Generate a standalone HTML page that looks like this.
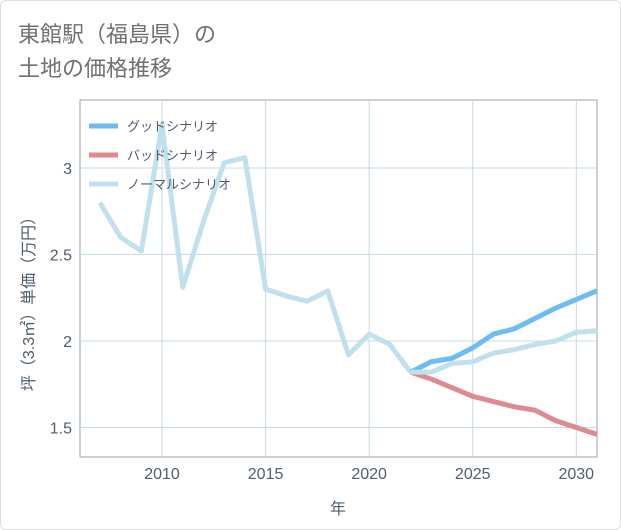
<!DOCTYPE html>
<html><head><meta charset="utf-8"><style>
body{margin:0;background:#fff;font-family:"Liberation Sans","Noto Sans CJK JP",sans-serif;}
#wrap{position:relative;width:619px;height:528px;border:1px solid #ddd;border-radius:6px;overflow:hidden;}
.title{position:absolute;left:17px;top:17px;font-size:22px;line-height:34px;color:#707070;}
</style></head><body>
<div id="wrap">
<div class="title">東館駅（福島県）の<br>土地の価格推移</div>
<svg id="chart" width="621" height="530" style="position:absolute;left:-1px;top:-1px"></svg>
</div>
<script>
const histYears=[2007,2008,2009,2010,2011,2012,2013,2014,2015,2016,2017,2018,2019,2020,2021,2022];
const histValues=[2.80,2.60,2.52,3.25,2.31,2.69,3.03,3.06,2.30,2.26,2.23,2.29,1.92,2.04,1.98,1.82];
const futYears=[2022,2023,2024,2025,2026,2027,2028,2029,2030,2031];
const goodValues=[1.82,1.88,1.90,1.96,2.04,2.07,2.13,2.19,2.24,2.29];
const badValues=[1.82,1.78,1.73,1.68,1.65,1.62,1.60,1.54,1.50,1.46];
const normalValues=[1.82,1.82,1.87,1.88,1.93,1.95,1.98,2.00,2.05,2.06];
const xTicks=[2010,2015,2020,2025,2030];
const yTicks=[1.5,2,2.5,3];
const NS="http://www.w3.org/2000/svg";
const svg=document.getElementById('chart');
const L=80,R=597,T=100,B=457;
const TXT='#4f5d6e';
const x=v=>L+(v-2006.04)*(R-L)/(2031-2006.04);
const y=v=>341-(v-2)*173;
function mk(t,a){const e=document.createElementNS(NS,t);for(const k in a)e.setAttribute(k,a[k]);svg.appendChild(e);return e;}
const frame=mk('rect',{x:L,y:T,width:R-L,height:B-T,fill:'none',stroke:'#9aa3ad','stroke-width':1});


xTicks.forEach(t=>{
 const g=mk('line',{x1:x(t),x2:x(t),y1:T,y2:B,stroke:'#c6dbe8','stroke-width':1});
 
 
 const l=mk('text',{x:x(t),y:479,'text-anchor':'middle','font-size':16,fill:TXT});l.textContent=t;
 
 
});
yTicks.forEach(t=>{
 const g=mk('line',{x1:L,x2:R,y1:y(t),y2:y(t),stroke:'#c6dbe8','stroke-width':1});
 
 
 const l=mk('text',{x:72,y:y(t)+6,'text-anchor':'end','font-size':16,fill:TXT});l.textContent=t;
 
 
});
const xt=mk('text',{x:338,y:514,'text-anchor':'middle','font-size':16,fill:TXT});xt.textContent='年';


const yt=mk('text',{x:0,y:0,'text-anchor':'middle','font-size':16,fill:TXT,transform:'translate(34,300) rotate(-90)'});yt.textContent='坪（3.3㎡）単価（万円）';


function line(xs,vs,c,n){
 const p=mk('polyline',{points:xs.map((v,i)=>x(v)+','+y(vs[i])).join(' '),fill:'none',stroke:c,'stroke-width':5,'stroke-linejoin':'round'});
 
 
}
line(histYears,histValues,'#c0e0ed','normal-history-line');
line(futYears,badValues,'#de8a90','bad-scenario-line');
line(futYears,goodValues,'#6bbdf3','good-scenario-line');
line(futYears,normalValues,'#c0e0ed','normal-scenario-line');
[['グッドシナリオ','#6bbdf3'],['バッドシナリオ','#de8a90'],['ノーマルシナリオ','#c0e0ed']].forEach((e,i)=>{
 const yy=126+i*29;
 const s=mk('line',{x1:89,x2:118,y1:yy,y2:yy,stroke:e[1],'stroke-width':5});
 
 
 const t=mk('text',{x:127,y:yy+5,'font-size':13,fill:TXT});t.textContent=e[0];
 
 
});
</script>
</body></html>
